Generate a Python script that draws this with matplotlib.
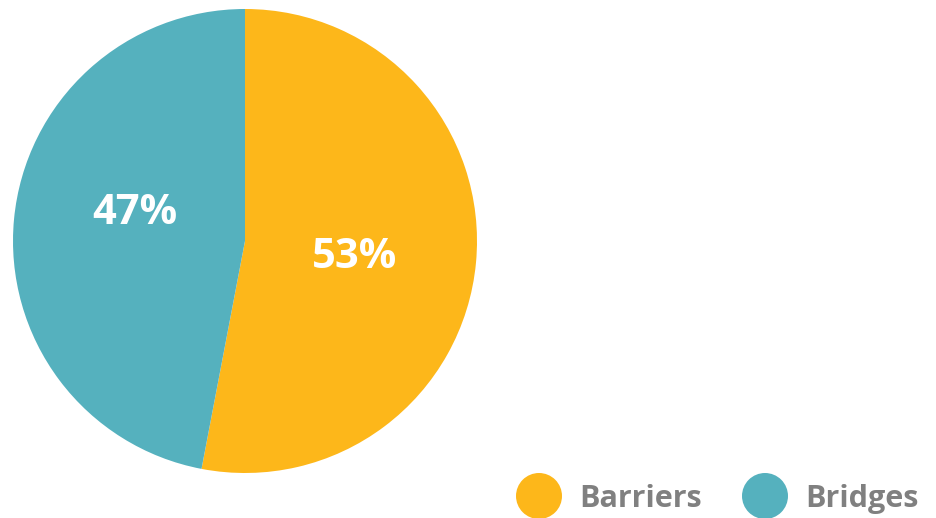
import matplotlib.pyplot as plt
from matplotlib.patches import Circle

labels = ['Barriers', 'Bridges']
shares = [53, 47]
colors = ['#FDB71A', '#55B1BE']
text_grey = '#808080'

W, H = 937, 518
CX, CY, R = 245, H - 241, 232

fig = plt.figure(figsize=(W / 100, H / 100), dpi=100)
ax = fig.add_axes([0, 0, 1, 1])

wedges, _, pct_texts = ax.pie(
    shares, colors=colors, startangle=90, counterclock=False,
    center=(CX, CY), radius=R, frame=True,
    autopct=lambda p: f'{p:.0f}%', pctdistance=0.48,
    wedgeprops=dict(linewidth=0),
    textprops=dict(color='white', fontsize=30, fontweight='bold',
                   family='Open Sans'))
ax.set_xlim(0, W)
ax.set_ylim(0, H)
ax.set_aspect('equal')
ax.axis('off')

# nudge the percentage labels: 53% sits a little low, 47% a little high
pct_texts[0].set_position((CX + 110, CY - 16))
pct_texts[1].set_position((CX - 110, CY + 28))

# legend: coloured dots with grey labels along the bottom edge
legend_x = [539, 765]
for x, lab, col in zip(legend_x, labels, colors):
    ax.add_patch(Circle((x, H - 496), 23, color=col, lw=0))
    ax.text(x + 40, H - 499, lab, color=text_grey, fontsize=22,
            fontweight='bold', family='Open Sans', va='center', ha='left')

fig.savefig('out.png', dpi=100)
